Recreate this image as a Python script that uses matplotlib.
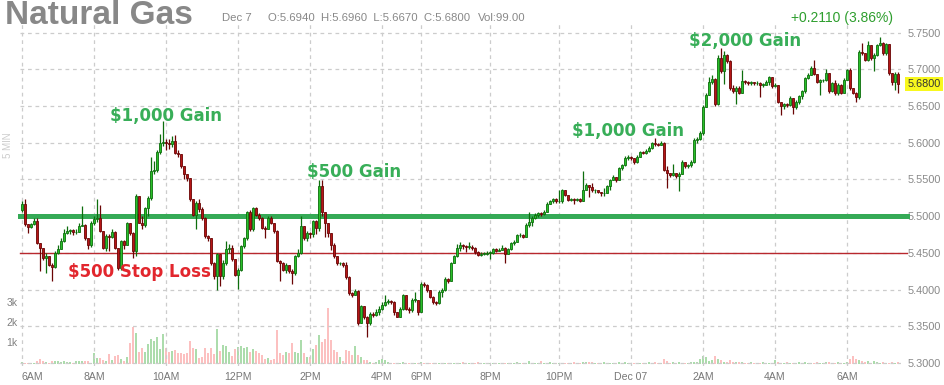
import numpy as np
import matplotlib
matplotlib.use("Agg")
import matplotlib.pyplot as plt
import matplotlib.transforms as mtransforms

plt.rcParams['font.family'] = ['Liberation Sans', 'DejaVu Sans']

# 5 minute candles, Dec 6 06:00 -> Dec 7 07:10 (slot index on the x axis)
open_first = 5.508
closes = [
    5.517, 5.489, 5.485, 5.489, 5.493, 5.463, 5.457, 5.443, 5.445, 5.434,
    5.431, 5.450, 5.455, 5.466, 5.477, 5.480, 5.481, 5.478, 5.479, 5.487,
    5.488, 5.470, 5.461, 5.491, 5.496, 5.498, 5.480, 5.457, 5.473, 5.472,
    5.479, 5.457, 5.430, 5.466, 5.461, 5.490, 5.477, 5.452, 5.527, 5.491,
    5.488, 5.511, 5.525, 5.561, 5.563, 5.587, 5.600, 5.601, 5.600, 5.598,
    5.602, 5.586, 5.585, 5.568, 5.557, 5.552, 5.523, 5.502, 5.518, 5.509,
    5.498, 5.473, 5.470, 5.436, 5.418, 5.448, 5.418, 5.436, 5.455, 5.457,
    5.441, 5.420, 5.427, 5.459, 5.470, 5.505, 5.482, 5.511, 5.502, 5.498,
    5.484, 5.483, 5.498, 5.491, 5.480, 5.439, 5.436, 5.427, 5.434, 5.425,
    5.423, 5.445, 5.450, 5.486, 5.470, 5.477, 5.475, 5.493, 5.484, 5.541,
    5.505, 5.490, 5.477, 5.460, 5.445, 5.436, 5.436, 5.434, 5.417, 5.395,
    5.393, 5.398, 5.354, 5.377, 5.363, 5.354, 5.367, 5.366, 5.370, 5.374,
    5.379, 5.383, 5.384, 5.383, 5.369, 5.363, 5.374, 5.392, 5.374, 5.372,
    5.386, 5.386, 5.370, 5.408, 5.406, 5.399, 5.390, 5.383, 5.382, 5.397,
    5.399, 5.415, 5.411, 5.436, 5.445, 5.456, 5.460, 5.459, 5.458, 5.458,
    5.457, 5.451, 5.447, 5.449, 5.449, 5.450, 5.450, 5.455, 5.453, 5.454,
    5.457, 5.449, 5.455, 5.463, 5.465, 5.474, 5.474, 5.472, 5.488, 5.492,
    5.497, 5.501, 5.504, 5.503, 5.506, 5.517, 5.520, 5.523, 5.520, 5.521,
    5.535, 5.529, 5.522, 5.523, 5.522, 5.523, 5.521, 5.535, 5.542, 5.539,
    5.535, 5.535, 5.533, 5.531, 5.532, 5.541, 5.549, 5.553, 5.549, 5.565,
    5.569, 5.579, 5.581, 5.579, 5.573, 5.581, 5.587, 5.586, 5.589, 5.593,
    5.599, 5.598, 5.597, 5.600, 5.563, 5.559, 5.556, 5.559, 5.554, 5.558,
    5.574, 5.568, 5.569, 5.573, 5.604, 5.605, 5.613, 5.649, 5.665, 5.683,
    5.687, 5.652, 5.715, 5.697, 5.720, 5.711, 5.674, 5.670, 5.674, 5.668,
    5.684, 5.683, 5.681, 5.682, 5.681, 5.681, 5.679, 5.679, 5.683, 5.689,
    5.677, 5.679, 5.656, 5.650, 5.652, 5.651, 5.661, 5.648, 5.656, 5.663,
    5.670, 5.688, 5.692, 5.702, 5.694, 5.683, 5.685, 5.685, 5.695, 5.670,
    5.681, 5.667, 5.679, 5.668, 5.686, 5.699, 5.674, 5.668, 5.662, 5.724,
    5.722, 5.713, 5.733, 5.715, 5.720, 5.733, 5.736, 5.722, 5.734, 5.695,
    5.683, 5.694, 5.680,
]
highs = [
    5.520, 5.523, 5.489, 5.490, 5.498, 5.498, 5.460, 5.455, 5.450, 5.446,
    5.436, 5.452, 5.460, 5.470, 5.482, 5.486, 5.483, 5.483, 5.482, 5.490,
    5.514, 5.489, 5.470, 5.493, 5.500, 5.523, 5.515, 5.478, 5.476, 5.475,
    5.482, 5.480, 5.457, 5.468, 5.467, 5.492, 5.490, 5.478, 5.530, 5.527,
    5.500, 5.512, 5.528, 5.580, 5.575, 5.590, 5.612, 5.630, 5.605, 5.605,
    5.609, 5.611, 5.590, 5.585, 5.566, 5.558, 5.552, 5.523, 5.520, 5.523,
    5.513, 5.499, 5.474, 5.470, 5.437, 5.450, 5.448, 5.440, 5.466, 5.462,
    5.460, 5.441, 5.430, 5.461, 5.472, 5.507, 5.508, 5.513, 5.512, 5.504,
    5.499, 5.486, 5.500, 5.500, 5.490, 5.481, 5.440, 5.437, 5.436, 5.434,
    5.428, 5.447, 5.455, 5.500, 5.487, 5.480, 5.479, 5.495, 5.495, 5.549,
    5.549, 5.506, 5.490, 5.474, 5.463, 5.446, 5.438, 5.438, 5.438, 5.418,
    5.397, 5.401, 5.399, 5.379, 5.377, 5.364, 5.369, 5.370, 5.373, 5.377,
    5.383, 5.392, 5.387, 5.386, 5.384, 5.368, 5.376, 5.394, 5.393, 5.376,
    5.388, 5.397, 5.385, 5.410, 5.410, 5.407, 5.399, 5.391, 5.385, 5.399,
    5.402, 5.417, 5.416, 5.438, 5.447, 5.462, 5.465, 5.462, 5.460, 5.465,
    5.460, 5.458, 5.452, 5.451, 5.451, 5.452, 5.453, 5.457, 5.456, 5.456,
    5.460, 5.458, 5.457, 5.465, 5.467, 5.476, 5.477, 5.475, 5.490, 5.505,
    5.500, 5.504, 5.506, 5.506, 5.508, 5.519, 5.522, 5.525, 5.524, 5.536,
    5.537, 5.536, 5.528, 5.525, 5.524, 5.525, 5.524, 5.562, 5.545, 5.542,
    5.545, 5.537, 5.536, 5.533, 5.538, 5.543, 5.551, 5.556, 5.553, 5.567,
    5.571, 5.582, 5.583, 5.582, 5.579, 5.583, 5.589, 5.588, 5.591, 5.595,
    5.601, 5.606, 5.600, 5.602, 5.601, 5.568, 5.559, 5.571, 5.559, 5.560,
    5.576, 5.574, 5.571, 5.576, 5.606, 5.608, 5.616, 5.651, 5.667, 5.690,
    5.692, 5.688, 5.720, 5.729, 5.725, 5.721, 5.713, 5.678, 5.677, 5.677,
    5.699, 5.685, 5.684, 5.684, 5.683, 5.684, 5.682, 5.681, 5.685, 5.691,
    5.690, 5.681, 5.679, 5.656, 5.654, 5.654, 5.663, 5.660, 5.658, 5.665,
    5.672, 5.690, 5.695, 5.704, 5.713, 5.693, 5.687, 5.687, 5.700, 5.695,
    5.683, 5.686, 5.681, 5.680, 5.688, 5.700, 5.702, 5.675, 5.669, 5.726,
    5.736, 5.722, 5.738, 5.733, 5.722, 5.735, 5.744, 5.737, 5.736, 5.735,
    5.695, 5.696, 5.696,
]
lows = [
    5.505, 5.486, 5.477, 5.484, 5.488, 5.462, 5.425, 5.440, 5.423, 5.432,
    5.412, 5.430, 5.448, 5.455, 5.465, 5.475, 5.476, 5.474, 5.475, 5.478,
    5.486, 5.468, 5.455, 5.458, 5.488, 5.492, 5.478, 5.455, 5.452, 5.452,
    5.470, 5.455, 5.427, 5.427, 5.455, 5.460, 5.474, 5.443, 5.445, 5.490,
    5.482, 5.485, 5.500, 5.522, 5.558, 5.560, 5.585, 5.596, 5.590, 5.592,
    5.594, 5.585, 5.580, 5.565, 5.550, 5.548, 5.520, 5.500, 5.482, 5.505,
    5.495, 5.470, 5.466, 5.434, 5.415, 5.399, 5.405, 5.415, 5.434, 5.450,
    5.439, 5.418, 5.401, 5.425, 5.457, 5.468, 5.480, 5.480, 5.500, 5.495,
    5.482, 5.470, 5.482, 5.489, 5.477, 5.437, 5.411, 5.425, 5.422, 5.422,
    5.407, 5.420, 5.444, 5.448, 5.468, 5.466, 5.470, 5.472, 5.476, 5.480,
    5.500, 5.472, 5.471, 5.454, 5.443, 5.434, 5.433, 5.431, 5.415, 5.393,
    5.390, 5.392, 5.352, 5.355, 5.360, 5.336, 5.352, 5.362, 5.364, 5.366,
    5.372, 5.378, 5.380, 5.380, 5.366, 5.362, 5.362, 5.372, 5.372, 5.368,
    5.370, 5.383, 5.366, 5.382, 5.403, 5.397, 5.388, 5.381, 5.379, 5.380,
    5.390, 5.398, 5.409, 5.415, 5.438, 5.444, 5.453, 5.455, 5.451, 5.455,
    5.454, 5.449, 5.445, 5.446, 5.447, 5.447, 5.442, 5.449, 5.451, 5.452,
    5.455, 5.436, 5.448, 5.454, 5.460, 5.466, 5.471, 5.470, 5.471, 5.485,
    5.486, 5.496, 5.499, 5.500, 5.501, 5.507, 5.516, 5.518, 5.518, 5.518,
    5.518, 5.527, 5.520, 5.521, 5.516, 5.521, 5.519, 5.520, 5.535, 5.526,
    5.533, 5.532, 5.531, 5.527, 5.528, 5.532, 5.536, 5.549, 5.547, 5.549,
    5.563, 5.568, 5.576, 5.576, 5.571, 5.572, 5.580, 5.584, 5.584, 5.587,
    5.592, 5.596, 5.595, 5.597, 5.561, 5.538, 5.553, 5.554, 5.552, 5.534,
    5.557, 5.566, 5.566, 5.567, 5.572, 5.600, 5.603, 5.611, 5.648, 5.665,
    5.680, 5.650, 5.651, 5.695, 5.680, 5.709, 5.672, 5.668, 5.652, 5.666,
    5.668, 5.680, 5.679, 5.679, 5.679, 5.678, 5.662, 5.676, 5.678, 5.678,
    5.675, 5.676, 5.654, 5.638, 5.646, 5.648, 5.650, 5.639, 5.646, 5.652,
    5.660, 5.668, 5.687, 5.692, 5.692, 5.681, 5.665, 5.683, 5.684, 5.668,
    5.669, 5.665, 5.665, 5.666, 5.667, 5.685, 5.672, 5.666, 5.656, 5.660,
    5.719, 5.711, 5.711, 5.713, 5.697, 5.718, 5.732, 5.720, 5.720, 5.692,
    5.678, 5.672, 5.667,
]
volumes = [
    83, 30, 40, 40, 50, 120, 250, 120, 90, 50,
    130, 120, 130, 100, 130, 80, 90, 50, 130, 110,
    120, 130, 120, 40, 500, 280, 300, 200, 120, 470,
    170, 380, 450, 220, 130, 330, 1000, 1800, 1530, 580,
    750, 580, 970, 1200, 1130, 1300, 720, 1470, 750, 580,
    630, 670, 530, 500, 470, 500, 1120, 780, 720, 280,
    330, 750, 500, 780, 470, 1700, 620, 920, 870, 550,
    380, 700, 800, 870, 750, 830, 580, 700, 630, 500,
    420, 250, 280, 170, 250, 1670, 500, 420, 580, 500,
    1000, 580, 500, 1170, 500, 330, 330, 700, 920, 1420,
    1080, 1200, 2750, 1170, 670, 580, 330, 120, 670, 620,
    450, 870, 420, 330, 170, 170, 80, 30, 80, 170,
    220, 170, 80, 30, 30, 40, 30, 60, 40, 30,
    50, 30, 40, 60, 30, 20, 40, 30, 50, 30,
    20, 40, 30, 20, 50, 40, 30, 60, 40, 30,
    20, 30, 60, 40, 30, 20, 50, 30, 40, 30,
    20, 30, 50, 40, 30, 60, 40, 30, 50, 110,
    40, 30, 50, 110, 40, 30, 60, 40, 30, 20,
    30, 50, 40, 30, 60, 30, 40, 80, 60, 70,
    80, 50, 40, 30, 60, 40, 50, 30, 40, 60,
    50, 70, 30, 40, 50, 30, 20, 40, 30, 60,
    40, 60, 30, 50, 230, 120, 40, 80, 40, 60,
    30, 50, 40, 70, 100, 60, 250, 400, 330, 120,
    170, 400, 230, 170, 100, 70, 170, 100, 100, 100,
    70, 40, 30, 100, 30, 50, 30, 60, 40, 30,
    30, 200, 80, 30, 40, 70, 30, 50, 40, 60,
    30, 70, 40, 30, 50, 70, 40, 30, 60, 70,
    30, 50, 60, 40, 30, 60, 230, 400, 230, 170,
    120, 80, 120, 50, 150, 100, 30, 70, 50, 30,
    60, 50, 99,
]

time_ticks = [0, 24, 48, 72, 96, 120, 133, 156, 179, 203, 227, 251, 275]
time_labels = ['6AM', '8AM', '10AM', '12PM', '2PM', '4PM', '6PM', '8PM', '10PM',
               'Dec 07', '2AM', '4AM', '6AM']
price_ticks = [5.30, 5.35, 5.40, 5.45, 5.50, 5.55, 5.60, 5.65, 5.70, 5.75]
vol_ticks = [1000, 2000, 3000]
vol_labels = ['1k', '2k', '3k']

target_level = 5.50
stop_level = 5.45
last_price = 5.68
gain_labels = ['$1,000 Gain', '$500 Gain', '$1,000 Gain', '$2,000 Gain']
gain_spots = [(48, 5.636), (110.8, 5.560), (202, 5.616), (241, 5.738)]
stop_label = '$500 Stop Loss'
stop_spot = (39.2, 5.424)

# ---- derived candle pieces
x = np.arange(len(closes))
c = np.array(closes)
o = np.array([open_first] + closes[:-1])
h = np.maximum(np.array(highs), np.maximum(o, c))
l = np.minimum(np.array(lows), np.minimum(o, c))
up = c >= o

W, H = 944, 385
fig = plt.figure(figsize=(W / 100, H / 100), dpi=100)
fig.patch.set_facecolor('white')

left_px, right_px, top_px, bot_px = 19.5, 901, 22, 366
pos = [left_px / W, 1 - bot_px / H, (right_px - left_px) / W, (bot_px - top_px) / H]
xlim = ((left_px - 22) / 3, (right_px - 22) / 3)

# volume pane sits underneath the price axes
axv = fig.add_axes(pos)
axv.set_xlim(xlim)
axv.set_ylim(-119, 16911)
axv.bar(x, volumes, width=0.8, color=np.where(up, '#acdcac', '#fcc0c0'), linewidth=0)
axv.axis('off')
for v, lab in zip(vol_ticks, vol_labels):
    axv.text(-0.002, v, lab, transform=mtransforms.blended_transform_factory(axv.transAxes, axv.transData),
             ha='right', va='center', fontsize=7.5, color='#808080')

ax = fig.add_axes(pos)
ax.patch.set_alpha(0)
ax.set_xlim(xlim)
ax.set_ylim(5.2959, 5.7643)
for s in ax.spines.values():
    s.set_visible(False)

for t in time_ticks:
    ax.axvline(t, color='#cccccc', lw=0.9, ls=(0, (3, 3)), zorder=0)
for p in price_ticks:
    ax.axhline(p, color='#cccccc', lw=0.9, ls=(0, (3, 3)), zorder=0)

ax.axhline(target_level, xmin=0, xmax=1.007, color='#35aa56', lw=3.6, zorder=2, clip_on=False)
ax.axhline(stop_level, xmin=0, xmax=1.007, color='#b8282e', lw=1.0, zorder=2, clip_on=False)

edge = np.where(up, '#0d6e0d', '#6a0505')
fill = np.where(up, '#29c029', '#b51616')
ax.vlines(x, l, h, colors=edge, lw=0.9, zorder=3)
body = np.maximum(np.abs(c - o), 0.0008)
ax.bar(x, body, bottom=np.minimum(o, c), width=0.74, color=fill, edgecolor=edge,
       linewidth=0.6, zorder=4)

ax.yaxis.tick_right()
ax.set_yticks(price_ticks)
ax.set_yticklabels([f'{p:.4f}' for p in price_ticks], fontsize=7.8, color='#888888')
ax.set_xticks(time_ticks)
ax.set_xticklabels(time_labels, fontsize=7.6, color='#777777')
ax.get_xticklabels()[0].set_horizontalalignment('left')
ax.tick_params(length=0, axis='y', pad=4.5)
ax.tick_params(length=0, axis='x', pad=4.5)

ax.annotate(f'{last_price:.4f}', xy=(1, last_price), xycoords=('axes fraction', 'data'),
            xytext=(4.5, 0), textcoords='offset points', ha='left', va='center',
            fontsize=7.8, color='#333333', zorder=6, annotation_clip=False,
            bbox=dict(boxstyle='square,pad=0.2', fc='#f8f81e', ec='none'))

for lab, (tx, ty) in zip(gain_labels, gain_spots):
    ax.text(tx, ty, lab.replace('$', r'\$'), ha='center', va='center', fontsize=12,
            fontweight='bold', family='DejaVu Sans', color='#38ae58', zorder=7)
ax.text(stop_spot[0], stop_spot[1], stop_label.replace('$', r'\$'), ha='center', va='center',
        fontsize=12, fontweight='bold', family='DejaVu Sans', color='#e2262d', zorder=7)

# header strip
fig.text(5 / W, 1 - 15 / H, 'Natural Gas', ha='left', va='center', fontsize=24,
         fontweight='bold', color='#888888')
fig.text(222 / W, 1 - 18 / H, 'Dec 7', ha='left', va='center', fontsize=8.2, color='#888888')
fig.text(268 / W, 1 - 18 / H, 'O:5.6940  H:5.6960  L:5.6670  C:5.6800', ha='left', va='center',
         fontsize=8.2, color='#888888')
fig.text(478 / W, 1 - 18 / H, 'Vol:99.00', ha='left', va='center', fontsize=8.2, color='#888888')
fig.text(893 / W, 1 - 18 / H, '+0.2110 (3.86%)', ha='right', va='center', fontsize=10,
         color='#2e9e2e')
fig.text(8 / W, 1 - 145 / H, '5 MIN', ha='center', va='center', rotation=90, fontsize=7,
         color='#cccccc')

fig.savefig('out.png', dpi=100)
